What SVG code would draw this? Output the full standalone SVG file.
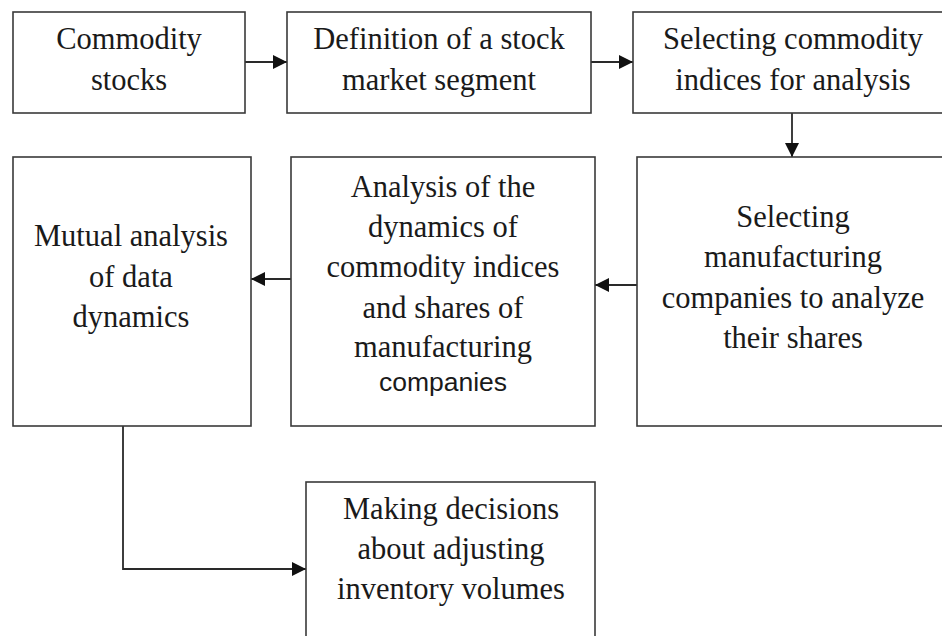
<svg xmlns="http://www.w3.org/2000/svg" width="942" height="636" viewBox="0 0 942 636">
<style>
.box{fill:#fff;stroke:#3a3a3a;stroke-width:1.6}
.t{font-family:"Liberation Serif","Times New Roman",serif;font-size:30.5px;fill:#1a1a1a;text-anchor:middle}
.s{font-family:"Liberation Sans",Arial,sans-serif;font-size:26.5px;fill:#1a1a1a;text-anchor:middle}
.c{fill:none;stroke:#2a2a2a;stroke-width:1.8}
</style>
<defs>
<marker id="ah" viewBox="0 0 14 14" refX="14" refY="7" markerWidth="14" markerHeight="14" markerUnits="userSpaceOnUse" orient="auto">
<path d="M0,0 L14,7 L0,14 Z" fill="#111"/>
</marker>
</defs>
<rect width="942" height="636" fill="#fff"/>
<g id="connectors">
<line class="c" x1="245" y1="62" x2="287" y2="62" marker-end="url(#ah)"/>
<line class="c" x1="591" y1="62" x2="633" y2="62" marker-end="url(#ah)"/>
<line class="c" x1="792" y1="113" x2="792" y2="157" marker-end="url(#ah)"/>
<line class="c" x1="637" y1="285" x2="595" y2="285" marker-end="url(#ah)"/>
<line class="c" x1="291" y1="279" x2="251" y2="279" marker-end="url(#ah)"/>
<polyline class="c" points="123,426 123,569 306,569" marker-end="url(#ah)"/>
</g>
<g id="n1">
<rect class="box" x="13" y="12" width="232" height="101"/>
<text class="t" x="129" y="49">Commodity</text>
<text class="t" x="129" y="90">stocks</text>
</g>
<g id="n2">
<rect class="box" x="287" y="12" width="304" height="101"/>
<text class="t" x="439" y="49">Definition of a stock</text>
<text class="t" x="439" y="90">market segment</text>
</g>
<g id="n3">
<rect class="box" x="633" y="12" width="320" height="101"/>
<text class="t" x="793" y="49">Selecting commodity</text>
<text class="t" x="793" y="90">indices for analysis</text>
</g>
<g id="n4">
<rect class="box" x="13" y="157" width="238" height="269"/>
<text class="t" x="131" y="246">Mutual analysis</text>
<text class="t" x="131" y="287">of data</text>
<text class="t" x="131" y="327">dynamics</text>
</g>
<g id="n5">
<rect class="box" x="291" y="157" width="304" height="269"/>
<text class="t" x="443" y="197">Analysis of the</text>
<text class="t" x="443" y="237">dynamics of</text>
<text class="t" x="443" y="277">commodity indices</text>
<text class="t" x="443" y="318">and shares of</text>
<text class="t" x="443" y="357">manufacturing</text>
<text class="s" x="443" y="391">companies</text>
</g>
<g id="n6">
<rect class="box" x="637" y="157" width="314" height="269"/>
<text class="t" x="793" y="227">Selecting</text>
<text class="t" x="793" y="267">manufacturing</text>
<text class="t" x="793" y="308">companies to analyze</text>
<text class="t" x="793" y="348">their shares</text>
</g>
<g id="n7">
<rect class="box" x="306" y="482" width="289" height="170"/>
<text class="t" x="451" y="519">Making decisions</text>
<text class="t" x="451" y="559">about adjusting</text>
<text class="t" x="451" y="599">inventory volumes</text>
</g>
</svg>
